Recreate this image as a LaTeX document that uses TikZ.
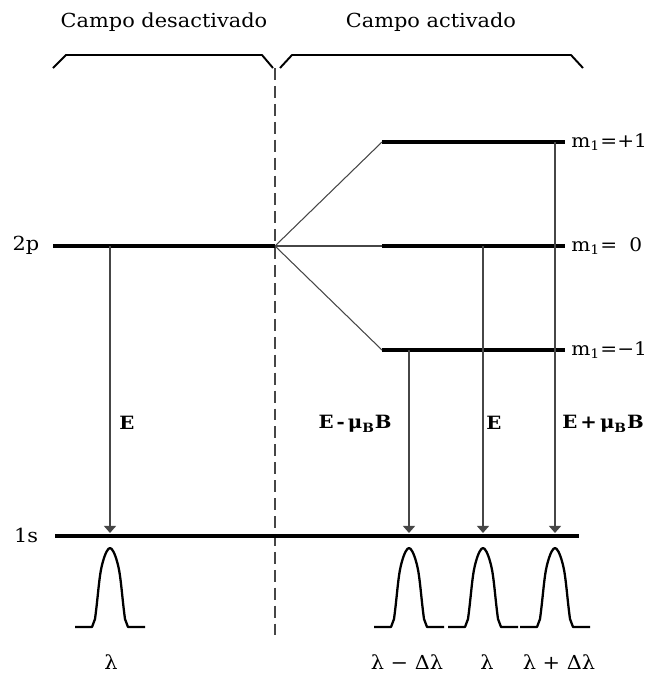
\documentclass[tikz,border=0pt]{standalone}
\usepackage{fontspec}
\setmainfont[FakeStretch=1.08]{DejaVu Serif}
\usetikzlibrary{arrows.meta}
\definecolor{linegray}{RGB}{70,70,70}
\tikzset{
  level/.style={line width=2.3pt,black},
  split/.style={line width=0.6pt,linegray},
  trans/.style={line width=0.8pt,linegray,-{Triangle[length=4pt,width=6.8pt]}},
  bracket/.style={line width=1.1pt,black,line join=round},
  sep/.style={line width=0.85pt,linegray,dash pattern=on 6.8pt off 3.4pt},
  lbl/.style={font=\fontsize{11}{13}\selectfont,inner sep=0pt},
  mlbl/.style={anchor=west,inner sep=0pt,font=\fontsize{10.6}{13}\selectfont},
  elbl/.style={inner sep=0pt,font=\fontsize{10.4}{13}\selectfont\bfseries},
  peak/.style={line width=1.3pt,black,line join=round}
}
\newcommand{\mval}[1]{m\textsubscript{1}=\makebox[1.6em][r]{#1}}
\newcommand{\peakat}[1]{%
  \draw[peak,shift={(#1,627)}] (-35,0) -- (-18,0) -- (-15,-8)
    .. controls (-12,-30) and (-11,-50) .. (-8,-62)
    .. controls (-5,-74) and (-2,-79) .. (0,-79)
    .. controls (2,-79) and (5,-74) .. (8,-62)
    .. controls (11,-50) and (12,-30) .. (15,-8) -- (18,0) -- (35,0);}

\begin{document}
\begin{tikzpicture}[x=0.02cm,y=-0.02cm]
  \useasboundingbox (0,0) rectangle (651,673);
  % headings and brackets
  \node[lbl] (off) at (164,22) {Campo desactivado};
  \node[lbl] (on)  at (431,22) {Campo activado};
  \draw[bracket] (53,68) -- (66,55) -- (262,55) -- (273,68);
  \draw[bracket] (280,68) -- (292,55) -- (571,55) -- (583,68);
  \coordinate (sepT) at (275,68);
  \coordinate (sepB) at (275,635);
  \draw[sep] (sepT) -- (sepB);
  % levels
  \node[lbl] (t2p) at (26,245) {2p};
  \node[lbl] (t1s) at (26,535) {1s};
  \coordinate (p2L) at (53,246);  \coordinate (p2R) at (275,246);
  \coordinate (s1L) at (55,536);  \coordinate (s1R) at (579,536);
  \coordinate (upL) at (382,142); \coordinate (upR) at (565,142);
  \coordinate (miL) at (382,246); \coordinate (miR) at (565,246);
  \coordinate (loL) at (382,350); \coordinate (loR) at (565,350);
  \draw[level] (p2L) -- (p2R);
  \draw[level] (s1L) -- (s1R);
  \draw[level] (upL) -- (upR);
  \draw[level] (miL) -- (miR);
  \draw[level] (loL) -- (loR);
  \draw[split] (p2R) -- (upL);
  \draw[split] (p2R) -- (miL);
  \draw[split] (p2R) -- (loL);
  \node[mlbl] (mup) at (571,142) {\mval{+1}};
  \node[mlbl] (mmi) at (571,246) {\mval{0\hspace{0.25em}}};
  \node[mlbl] (mlo) at (571,350) {\mval{−1}};
  % transitions
  \coordinate (aA) at (110,246); \coordinate (aAe) at (110,533);
  \coordinate (aB) at (409,350); \coordinate (aBe) at (409,533);
  \coordinate (aC) at (483,246); \coordinate (aCe) at (483,533);
  \coordinate (aD) at (555,142); \coordinate (aDe) at (555,533);
  \draw[trans] (aA) -- (aAe);
  \draw[trans] (aB) -- (aBe);
  \draw[trans] (aC) -- (aCe);
  \draw[trans] (aD) -- (aDe);
  \node[elbl] (eA) at (127,423) {E};
  \node[elbl] (eB) at (355,424) {E\,-\,μ\textsubscript{B}B};
  \node[elbl] (eC) at (494,423) {E};
  \node[elbl,anchor=west] (eD) at (562,424) {E\,+\,μ\textsubscript{B}B};
  % lines
  \peakat{110}
  \peakat{409}
  \peakat{483}
  \peakat{555}
  \node[lbl] (wA) at (111,662) {λ};
  \node[lbl] (wB) at (407,662) {λ − Δλ};
  \node[lbl] (wC) at (487,662) {λ};
  \node[lbl] (wD) at (559,662) {λ + Δλ};
\end{tikzpicture}
\end{document}
